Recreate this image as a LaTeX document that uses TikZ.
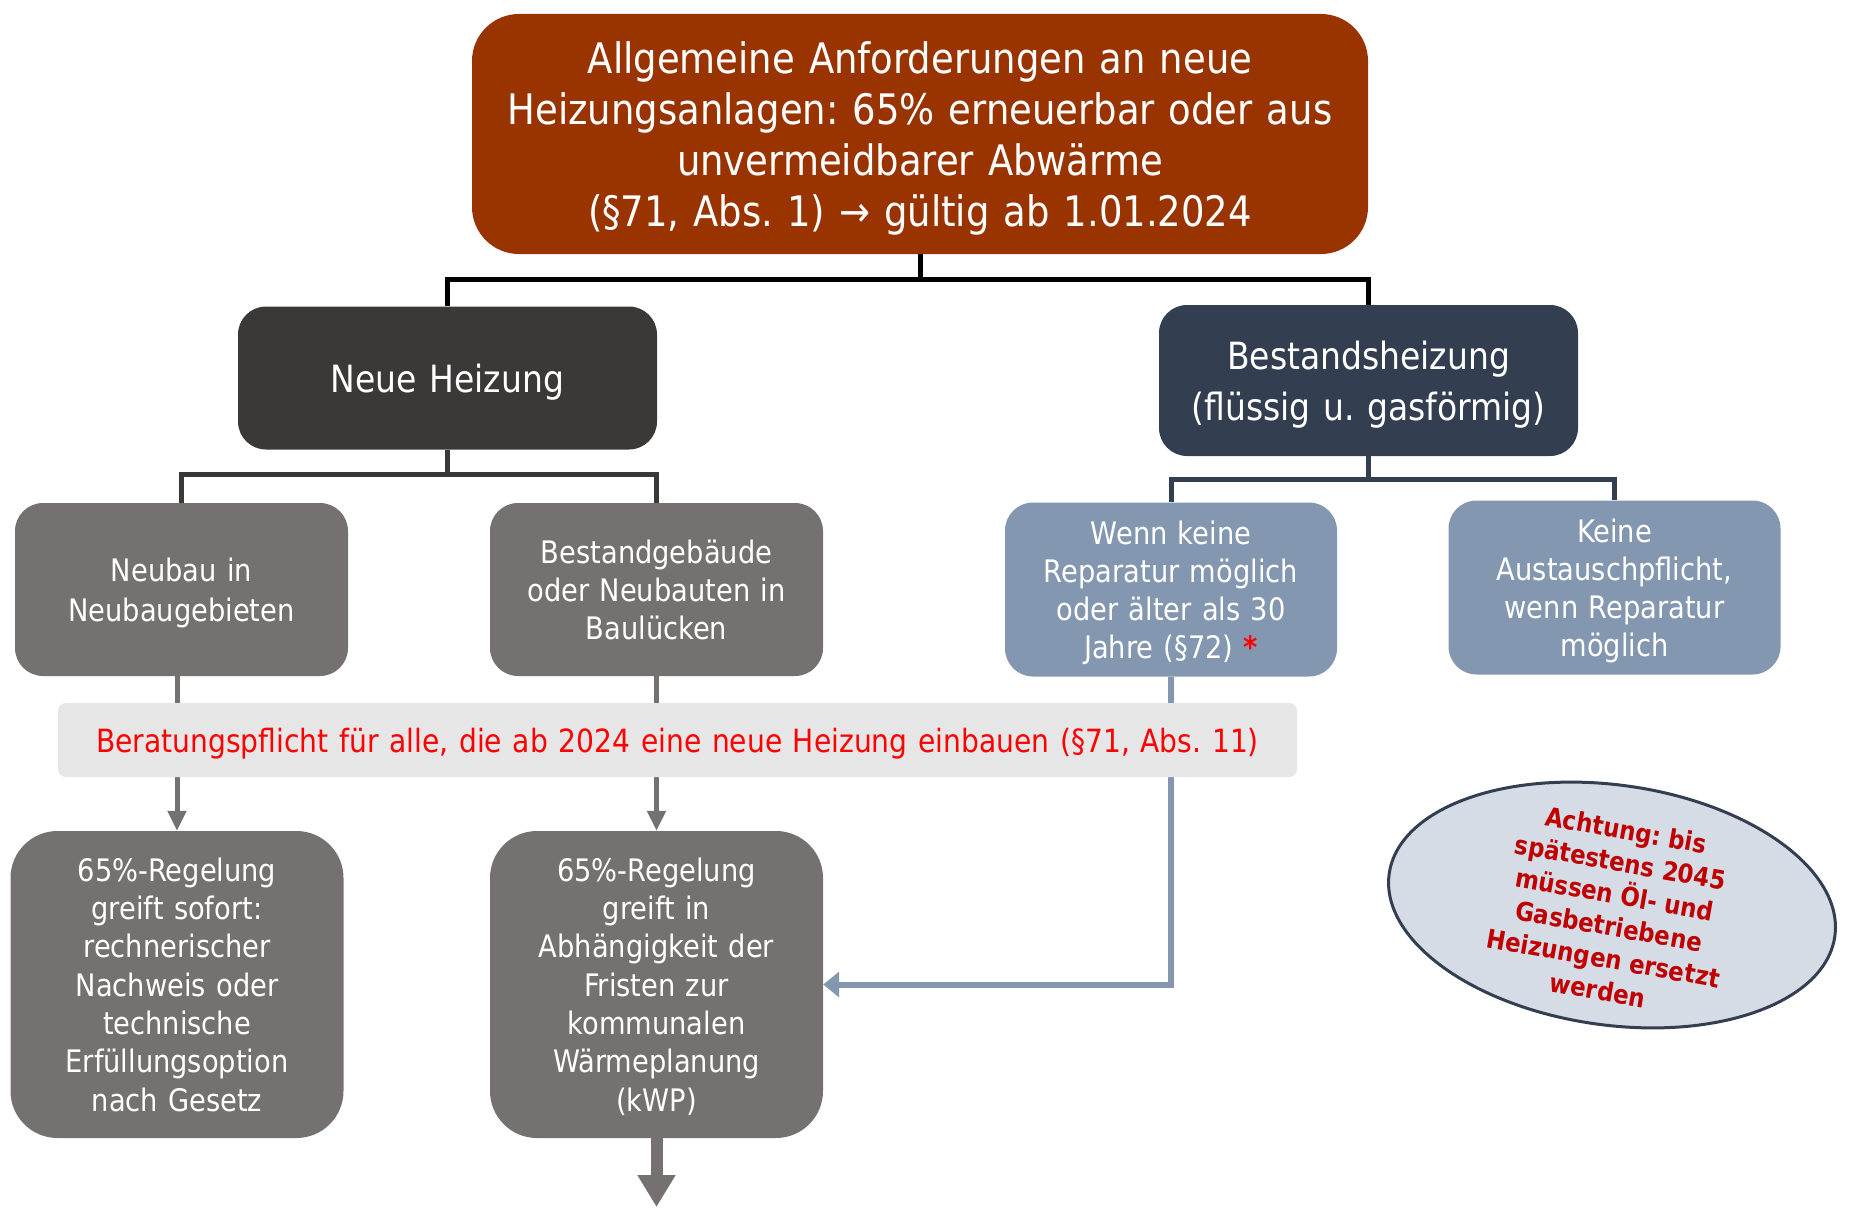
\documentclass[tikz,border=0pt]{standalone}
\usepackage{fontspec}
\setmainfont{DejaVu Sans}[FakeStretch=0.88]
\usetikzlibrary{arrows.meta,shapes.geometric}
\definecolor{rost}{HTML}{993300}
\definecolor{anthrazit}{HTML}{3B3838}
\definecolor{schiefer}{HTML}{333F50}
\definecolor{grau}{HTML}{767171}
\definecolor{blaugrau}{HTML}{8497B0}
\definecolor{hellgrau}{HTML}{E7E6E6}
\definecolor{hellblau}{HTML}{D6DCE5}
\definecolor{weinrot}{HTML}{C00000}
\frenchspacing
\def\boxstrut{\rule[-0.24em]{0pt}{1.24em}}
\tikzset{
	boxbase/.style={rectangle, text=white, align=center, inner sep=0pt, execute at begin node=\boxstrut, execute at end node=\boxstrut},
	topbox/.style={boxbase, fill=rost, rounded corners=47pt, minimum width=896pt, minimum height=240pt, text width=860pt, font=\frenchspacing\fontsize{42}{51}\selectfont},
	neubox/.style={boxbase, fill=anthrazit, rounded corners=28pt, minimum width=419pt, minimum height=143pt, text width=400pt, font=\frenchspacing\fontsize{37.5}{51}\selectfont},
	bestbox/.style={boxbase, fill=schiefer, rounded corners=28pt, minimum width=419pt, minimum height=151pt, text width=400pt, font=\frenchspacing\fontsize{37.5}{51}\selectfont},
	graubox/.style={boxbase, fill=grau, rounded corners=28pt, minimum width=333pt, minimum height=173pt, text width=320pt, font=\frenchspacing\fontsize{31}{38}\selectfont},
	blaubox/.style={boxbase, fill=blaugrau, rounded corners=28pt, minimum width=332pt, minimum height=174pt, text width=320pt, font=\frenchspacing\fontsize{31}{38}\selectfont},
	regelbox/.style={boxbase, fill=grau, rounded corners=47pt, minimum width=333pt, minimum height=307pt, text width=320pt, font=\frenchspacing\fontsize{31}{38.3}\selectfont},
	barbox/.style={boxbase, fill=hellgrau, text=red, rounded corners=8pt, minimum width=1239pt, minimum height=74pt, text width=1230pt, font=\frenchspacing\fontsize{32}{38}\selectfont},
	warnellipse/.style={ellipse, draw=schiefer, line width=3pt, fill=hellblau, minimum width=450pt, minimum height=240pt, inner sep=0pt},
	warntext/.style={align=center, text=weinrot, font=\frenchspacing\bfseries\fontsize{26}{32.5}\selectfont},
	blackline/.style={draw=black, line width=5pt},
	darkline/.style={draw=anthrazit, line width=5pt},
	slateline/.style={draw=schiefer, line width=5pt},
	grayarrow/.style={draw=grau, line width=5pt, -{Triangle[length=20pt,width=18pt]}},
	bluearrow/.style={draw=blaugrau, line width=6pt, -{Triangle[length=16pt,width=25pt]}},
	bigarrow/.style={draw=grau, line width=12pt, -{Triangle[length=32pt,width=36pt]}}
}

\begin{document}
\begin{tikzpicture}[x=1pt,y=1pt]
	%%%%% START %%%%%
	\useasboundingbox (0,0) rectangle (1849,-1207);

	\node[topbox] (top) at (920,-134) {Allgemeine Anforderungen an neue\\Heizungsanlagen: 65\% erneuerbar oder aus\\unvermeidbarer Abwärme\\(§71, Abs. 1) → gültig ab 1.01.2024};

	\node[neubox] (neu) at (447.5,-378) {Neue Heizung};
	\node[bestbox] (bestand) at (1368.5,-380.5) {Bestandsheizung\\(flüssig u. gasförmig)};

	\node[graubox] (neubau) at (181.5,-589.5) {Neubau in\\Neubaugebieten};
	\node[graubox] (altbau) at (656.5,-589.5) {Bestandgebäude\\oder Neubauten in\\Baulücken};
	\node[blaubox] (defekt) at (1171,-589.5) {Wenn keine\\Reparatur möglich\\oder älter als 30\\Jahre (§72) {\color{red}\bfseries *}};
	\node[blaubox] (intakt) at (1614.5,-587.5) {Keine\\Austauschpflicht,\\wenn Reparatur\\möglich};

	\node[regelbox] (sofort) at (177,-984.5) {65\%-Regelung\\greift sofort:\\rechnerischer\\Nachweis oder\\technische\\Erfüllungsoption\\nach Gesetz};
	\node[regelbox] (kwp) at (656.5,-984.5) {65\%-Regelung\\greift in\\Abhängigkeit der\\Fristen zur\\kommunalen\\Wärmeplanung\\(kWP)};

	% tree
	\draw[blackline] (top.south) -- ++(0,-25) -| (neu.north);
	\draw[blackline] (top.south) -- ++(0,-25) -| (bestand.north);
	\draw[darkline] (neu.south) -- ++(0,-25) -| (neubau.north);
	\draw[darkline] (neu.south) -- ++(0,-25) -| (altbau.north);
	\draw[slateline] (bestand.south) -- ++(0,-23) -| (defekt.north);
	\draw[slateline] (bestand.south) -- ++(0,-23) -| (intakt.north);

	% arrows, behind the bar
	\draw[grayarrow] (sofort.north |- neubau.south) -- (sofort.north);
	\draw[grayarrow] (altbau.south) -- (kwp.north);
	\draw[bluearrow] (defekt.south) |- (kwp.east);
	\coordinate (unten) at (656.5,-1207);
	\draw[bigarrow] (kwp.south) -- (unten);

	\node[barbox] (beratung) at (677.5,-740) {Beratungspflicht für alle, die ab 2024 eine neue Heizung einbauen (§71, Abs. 11)};

	% warning
	\node[warnellipse, rotate=-8] (warn) at (1612,-905) {};
	\node[warntext, rotate=-10] (warntxt) at (1612,-910) {Achtung: bis\\spätestens 2045\\müssen Öl- und\\Gasbetriebene\\Heizungen ersetzt\\werden};
	%%%%% END %%%%%
\end{tikzpicture}
\end{document}
